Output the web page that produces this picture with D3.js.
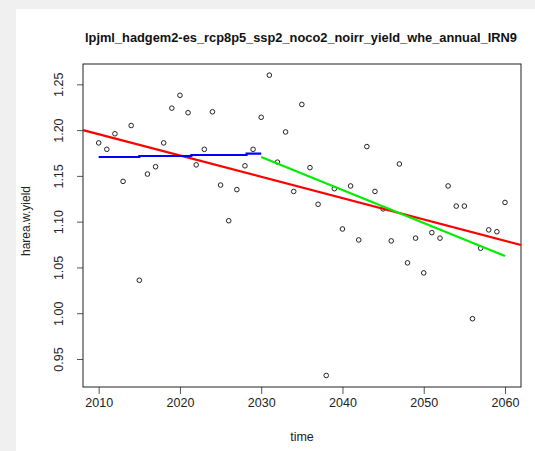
<!DOCTYPE html>
<html>
<head>
<meta charset="utf-8">
<script src="https://cdn.jsdelivr.net/npm/d3@7"></script>
<style>
  html, body { margin: 0; padding: 0; background: #f0f0f0; }
  svg { display: block; }
  text { font-family: "Liberation Sans", Arial, sans-serif; }
</style>
</head>
<body>
<div id="chart"></div>
<script>
// data
const years = d3.range(2010, 2061);
const yieldValues = [
  1.186, 1.179, 1.196, 1.144, 1.205, 1.036, 1.152, 1.160, 1.186, 1.224,
  1.238, 1.219, 1.162, 1.179, 1.220, 1.140, 1.101, 1.135, 1.161, 1.179,
  1.214, 1.260, 1.165, 1.198, 1.133, 1.228, 1.159, 1.119, 0.932, 1.136,
  1.092, 1.139, 1.080, 1.182, 1.133, 1.114, 1.079, 1.163, 1.055, 1.082,
  1.044, 1.088, 1.082, 1.139, 1.117, 1.117, 0.994, 1.071, 1.091, 1.089,
  1.121
];
// fitted lines as [year, value]
const redLine   = [[2008.07, 1.200], [2061.97, 1.0745]];
const blueLine  = [[2010, 1.1706], [2015, 1.1706], [2015, 1.1717], [2021.4, 1.1717],
                   [2021.4, 1.1728], [2028.2, 1.1728], [2028.2, 1.1742], [2030, 1.1742]];
const greenLine = [[2030, 1.1706], [2060, 1.0625]];
const xTicks = [2010, 2020, 2030, 2040, 2050, 2060];
const yTicks = [0.95, 1.00, 1.05, 1.10, 1.15, 1.20, 1.25];

const titleText = "lpjml_hadgem2-es_rcp8p5_ssp2_noco2_noirr_yield_whe_annual_IRN9";

const W = 535, H = 451;
const plot = { left: 83, right: 521, top: 64, bottom: 387 };

const svg = d3.select("#chart").append("svg")
  .attr("width", W)
  .attr("height", H);

// white page area
svg.append("rect")
  .attr("x", 16).attr("y", 9)
  .attr("width", W - 16).attr("height", H - 9)
  .attr("fill", "#fff");

const x = d3.scaleLinear().domain([2008.07, 2061.97]).range([plot.left, plot.right]);
const y = d3.scaleLinear().domain([0.9194, 1.2722]).range([plot.bottom, plot.top]);

// title
svg.append("text")
  .attr("x", 301)
  .attr("y", 42)
  .attr("text-anchor", "middle")
  .attr("font-size", "12px")
  .attr("font-weight", "bold")
  .attr("fill", "#111")
  .attr("textLength", 432)
  .attr("lengthAdjust", "spacingAndGlyphs")
  .text(titleText);

// x axis
const xAxisG = svg.append("g")
  .attr("transform", `translate(0,${plot.bottom})`)
  .call(d3.axisBottom(x).tickValues(xTicks).tickSize(7).tickFormat(d3.format("d")));
xAxisG.select(".domain").remove();
xAxisG.selectAll("line").attr("stroke", "#555");
xAxisG.selectAll("text")
  .attr("y", 20)
  .attr("dy", "0")
  .attr("font-size", "12.5px")
  .attr("fill", "#222")
  .attr("font-family", "Liberation Sans, Arial, sans-serif");

// y axis
const yAxisG = svg.append("g")
  .attr("transform", `translate(${plot.left},0)`)
  .call(d3.axisLeft(y).tickValues(yTicks).tickSize(6).tickFormat(d3.format(".2f")));
yAxisG.select(".domain").remove();
yAxisG.selectAll("line").attr("stroke", "#555");
yAxisG.selectAll("text")
  .attr("x", 0).attr("dy", "0")
  .attr("transform", "translate(-20,0) rotate(-90)")
  .attr("text-anchor", "middle")
  .attr("font-size", "12.5px")
  .attr("fill", "#222")
  .attr("font-family", "Liberation Sans, Arial, sans-serif");

// box
svg.append("rect")
  .attr("x", plot.left).attr("y", plot.top)
  .attr("width", plot.right - plot.left)
  .attr("height", plot.bottom - plot.top)
  .attr("fill", "none")
  .attr("stroke", "#222")
  .attr("stroke-width", 1);

// axis titles
svg.append("text")
  .attr("x", (plot.left + plot.right) / 2)
  .attr("y", 441)
  .attr("text-anchor", "middle")
  .attr("font-size", "12.5px")
  .attr("fill", "#222")
  .text("time");

svg.append("text")
  .attr("transform", `translate(30,221) rotate(-90)`)
  .attr("text-anchor", "middle")
  .attr("font-size", "12px")
  .attr("fill", "#222")
  .text("harea.w.yield");

// points
svg.append("g").selectAll("circle")
  .data(years.map((yr, i) => ({ yr, v: yieldValues[i] })))
  .enter()
  .append("circle")
  .attr("cx", d => x(d.yr))
  .attr("cy", d => y(d.v))
  .attr("r", 2.3)
  .attr("fill", "none")
  .attr("stroke", "#222")
  .attr("stroke-width", 1);

// lines
const line = d3.line().x(d => x(d[0])).y(d => y(d[1]));
[[redLine, "#ff0000"], [blueLine, "#0000ff"], [greenLine, "#00ee00"]].forEach(([pts, col]) => {
  svg.append("path")
    .attr("d", line(pts))
    .attr("fill", "none")
    .attr("stroke", col)
    .attr("stroke-width", 2.2);
});
</script>
</body>
</html>
